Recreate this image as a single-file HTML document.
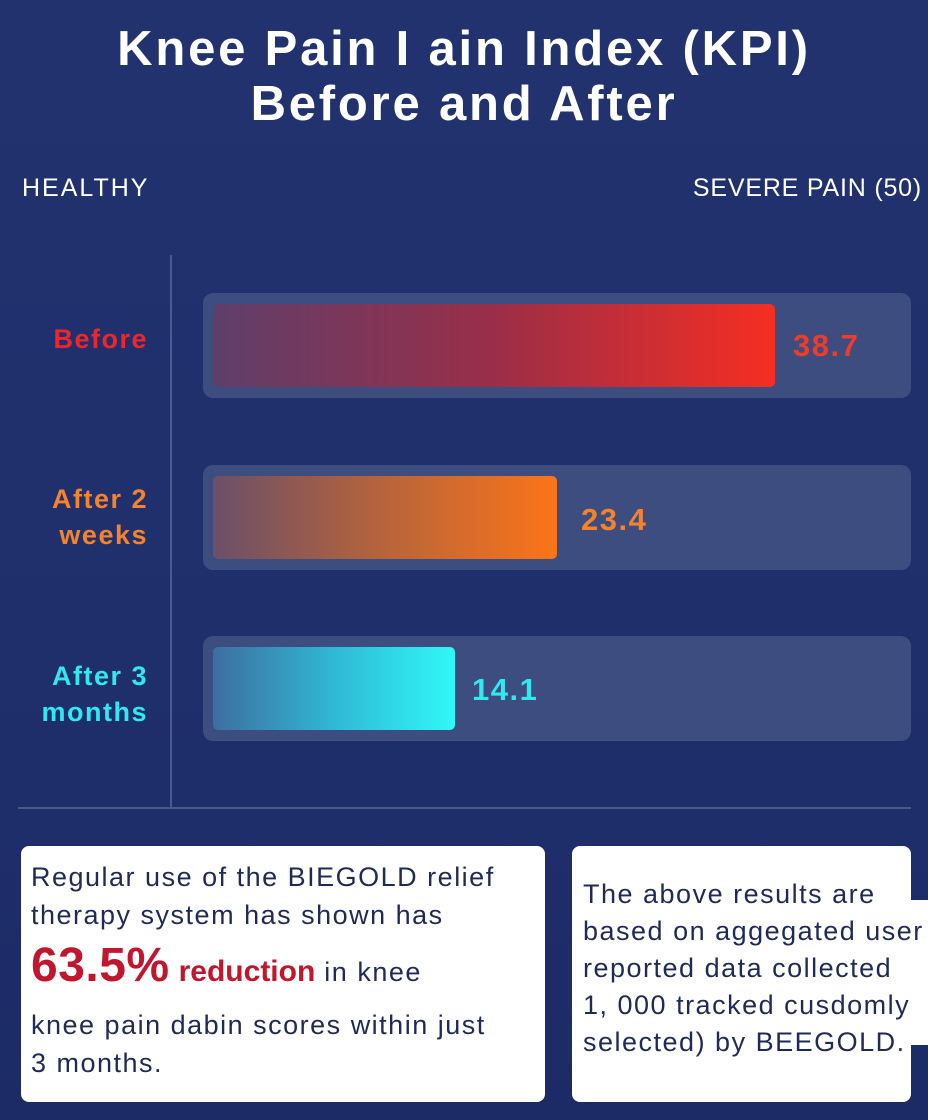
<!DOCTYPE html>
<html><head><style>
body{margin:0;width:928px;height:1120px;overflow:hidden;background:linear-gradient(180deg,#22326f 0%,#1f2f6c 60%,#1c2b66 100%);font-family:"Liberation Sans",sans-serif;position:relative}
.a{position:absolute}
.t{left:0;width:928px;text-align:center;color:#fff;font-weight:bold;font-size:49px;line-height:55px;letter-spacing:2.8px}
.lab{right:780px;text-align:right;font-weight:bold;font-size:27px;line-height:36px;letter-spacing:1.5px}
.track{left:203px;width:708px;height:105px;background:#3d4d7f;border-radius:10px}
.bar{left:213px;height:83px;border-radius:5px}
.val{font-weight:bold;font-size:31px;letter-spacing:1.5px}
.card{background:#fff;border-radius:8px}
.tx{color:#1f2a55;font-size:27px;letter-spacing:1.5px;white-space:nowrap}
</style></head><body>
<div class="a t" style="top:22px">Knee Pain I ain Index (KPI)</div>
<div class="a t" style="top:77px">Before and After</div>
<div class="a" style="left:22px;top:174px;color:#fff;font-size:25px;letter-spacing:2px">HEALTHY</div>
<div class="a" style="right:6px;top:174px;color:#fff;font-size:25px;letter-spacing:0.8px">SEVERE PAIN (50)</div>
<div class="a" style="left:170px;top:255px;width:2px;height:552px;background:#4a5a8a"></div>
<div class="a" style="left:18px;top:807px;width:893px;height:2px;background:#4a5a8a"></div>

<div class="a track" style="top:293px"></div>
<div class="a bar" style="top:304px;width:562px;background:linear-gradient(90deg,#5e3f6a,#9a2e48 50%,#f62e22)"></div>
<div class="a val" style="left:793px;top:328px;color:#f03a2a">38.7</div>
<div class="a lab" style="top:321px;color:#f0252a">Before</div>

<div class="a track" style="top:465px"></div>
<div class="a bar" style="top:476px;width:344px;background:linear-gradient(90deg,#6a5068,#b8643a 50%,#fc7418)"></div>
<div class="a val" style="left:581px;top:502px;color:#f5822c">23.4</div>
<div class="a lab" style="top:481px;color:#f5822c">After 2<br>weeks</div>

<div class="a track" style="top:636px"></div>
<div class="a bar" style="top:647px;width:242px;background:linear-gradient(90deg,#3d6ea0,#30b8d4 50%,#2ff8f8)"></div>
<div class="a val" style="left:472px;top:672px;color:#30e8f0">14.1</div>
<div class="a lab" style="top:658px;color:#30e8f0">After 3<br>months</div>

<div class="a card" style="left:21px;top:846px;width:524px;height:256px"></div>
<div class="a tx" style="left:31px;top:858px;line-height:38px">Regular use of the BIEGOLD relief<br>therapy system has shown has</div>
<div class="a tx" style="left:31px;top:938px"><span style="color:#c0162e;font-weight:bold;font-size:48px;letter-spacing:0.5px">63.5%</span> <span style="color:#c0162e;font-size:30px;font-weight:bold;letter-spacing:0">reduction</span> in knee</div>
<div class="a tx" style="left:31px;top:1006px;line-height:38px">knee pain dabin scores within just<br>3 months.</div>

<div class="a card" style="left:572px;top:846px;width:339px;height:256px"></div>
<div class="a" style="left:905px;top:900px;width:23px;height:145px;background:#fff"></div>
<div class="a tx" style="left:583px;top:876px;line-height:37px">The above results are<br>based on aggegated user<br>reported data collected<br>1, 000 tracked cusdomly<br>selected) by BEEGOLD.</div>
</body></html>
